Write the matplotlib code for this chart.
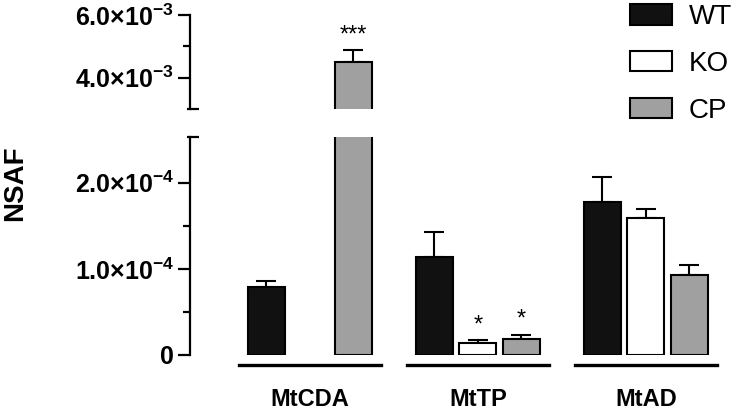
import numpy as np
import matplotlib.pyplot as plt
from matplotlib.ticker import FixedLocator, FixedFormatter
import matplotlib.transforms as mtransforms

plt.rcParams['font.family'] = ['Liberation Sans', 'DejaVu Sans']
plt.rcParams['mathtext.fontset'] = 'custom'
plt.rcParams['mathtext.rm'] = 'Liberation Sans:bold'
plt.rcParams['mathtext.it'] = 'Liberation Sans:bold'
plt.rcParams['mathtext.bf'] = 'Liberation Sans:bold'

groups = ["MtCDA", "MtTP", "MtAD"]
series = ["WT", "KO", "CP"]
colors = ["#111111", "#ffffff", "#a0a0a0"]

# NSAF mean and SEM, per series, per group
wt = [0.79e-4, 1.14e-4, 1.78e-4]
wt_err = [0.07e-4, 0.29e-4, 0.29e-4]
ko = [np.nan, 0.14e-4, 1.59e-4]
ko_err = [np.nan, 0.03e-4, 0.10e-4]
cp = [4.5e-3, 0.19e-4, 0.93e-4]
cp_err = [0.37e-3, 0.04e-4, 0.12e-4]
stars = [["", "", "***"], ["", "*", "*"], ["", "", ""]]

means = [wt, ko, cp]
errs = [wt_err, ko_err, cp_err]

fig = plt.figure(figsize=(7.45, 4.12), dpi=100)
W, H = 745, 412
ax_hi = fig.add_axes([190 / W, 1 - 109 / H, 550 / W, 94 / H])
ax_lo = fig.add_axes([190 / W, 1 - 355 / H, 550 / W, 218 / H])

x = np.arange(len(groups))
off = 0.259
width = 0.22

handles = []
for ax in (ax_hi, ax_lo):
    for i, s in enumerate(series):
        pos = x + (i - 1) * off
        b = ax.bar(pos, means[i], width, color=colors[i], edgecolor="black",
                   linewidth=1.5, label=s, zorder=2)
        ax.errorbar(pos, means[i], yerr=[np.zeros(3), errs[i]], fmt="none",
                    ecolor="black", elinewidth=1.5, capsize=7.5, capthick=1.5,
                    zorder=1)
        if ax is ax_lo:
            handles.append(b)
    ax.set_xlim(-0.714, 2.56)
    for sp in ("top", "right", "bottom"):
        ax.spines[sp].set_visible(False)
    ax.spines["left"].set_linewidth(1.6)
    ax.set_xticks([])
    ax.tick_params(axis="y", which="major", direction="out", length=8.5,
                   width=1.6, pad=3, labelsize=18)
    ax.tick_params(axis="y", which="minor", direction="out", length=5,
                   width=1.6)
    # break marks
    ax.plot([-0.006, 0.016], [0 if ax is ax_hi else 1] * 2,
            transform=ax.transAxes, color="black", lw=1.6, clip_on=False,
            solid_capstyle="butt")

ax_hi.set_ylim(3e-3, 6e-3)
ax_hi.yaxis.set_major_locator(FixedLocator([4e-3, 6e-3]))
ax_hi.yaxis.set_major_formatter(FixedFormatter([r"$4.0{\times}10^{-3}$",
                                                 r"$6.0{\times}10^{-3}$"]))
ax_hi.yaxis.set_minor_locator(FixedLocator([5e-3]))

ax_lo.set_ylim(0, 2.53e-4)
ax_lo.yaxis.set_major_locator(FixedLocator([0, 1e-4, 2e-4]))
ax_lo.yaxis.set_major_formatter(FixedFormatter([r"$0$", r"$1.0{\times}10^{-4}$",
                                                 r"$2.0{\times}10^{-4}$"]))
ax_lo.yaxis.set_minor_locator(FixedLocator([0.5e-4, 1.5e-4]))

# significance stars
for i in range(3):
    for g in range(3):
        st = stars[g][i]
        if not st:
            continue
        top = means[i][g] + errs[i][g]
        ax = ax_hi if top > 3e-3 else ax_lo
        ax.annotate(st, (x[g] + (i - 1) * off, top), xytext=(0, 3),
                    textcoords="offset points", ha="center", va="bottom",
                    fontsize=17)

# group underlines and labels
trans = mtransforms.blended_transform_factory(ax_lo.transData, ax_lo.transAxes)
for g, name in enumerate(groups):
    ax_lo.plot([x[g] - 0.425, x[g] + 0.425], [-0.046, -0.046], transform=trans,
               color="black", lw=2.4, clip_on=False)
    ax_lo.text(x[g], -0.232, name, transform=trans, ha="center", va="baseline",
               fontsize=17, fontweight="bold")

fig.text(15 / W, 1 - 183 / H, "NSAF", rotation=90, ha="center", va="center",
         fontsize=20, fontweight="bold")

fig.legend(handles=handles, labels=series, loc="upper left",
           bbox_to_anchor=(626 / W, 1.0), frameon=False, fontsize=20,
           handlelength=1.5, handleheight=0.75, handletextpad=0.6,
           labelspacing=0.75, borderaxespad=0.0, borderpad=0.15)

fig.savefig("out.png", dpi=100)
